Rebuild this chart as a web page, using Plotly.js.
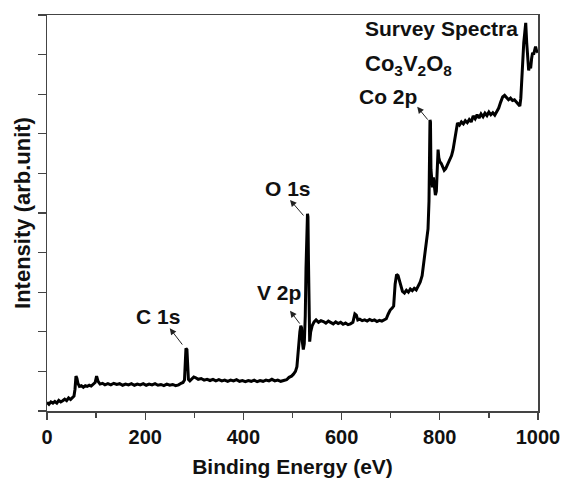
<!DOCTYPE html>
<html>
<head>
<meta charset="utf-8">
<script src="https://cdn.plot.ly/plotly-3.0.1.min.js"></script>
<style>html,body{margin:0;padding:0;background:#fff;}#chart{width:564px;height:478px;}</style>
</head>
<body>
<div id="chart"></div>
<script>
const energy = [0,4,8,12,16,20,24,28,32,36,40,44,48,52,55,57,59,61,63,66,70,74,78,82,86,90,94,98,101,104,108,113,118,124,130,136,142,148,154,160,166,172,178,184,190,196,202,208,214,220,226,232,238,244,250,256,262,268,273,277,280,281.5,283,285,286.5,288,291,295,299,303,308,314,320,326,332,338,344,350,356,362,368,374,380,386,392,398,404,410,416,422,428,434,440,446,452,458,464,470,476,482,488,493,498,502,506,509,511,513,515,517,518.5,520,522,524,526,527.5,529,530.5,531.5,532.5,533.5,535,537,540,544,548,553,558,563,568,573,578,583,588,593,598,603,608,613,618,623,627,630,633,637,642,647,652,657,662,667,672,677,682,687,691,695,699,703,706,709,712,715,718,721,724,728,732,736,740,744,748,752,756,760,764,767,770,773,776,778,779,780,781,782,783,785,787,789,791,793,795,796.5,798,800,803,806,809,812,815,818,821,824,827,830,833,836,840,844,848,852,856,860,864,868,872,876,880,884,888,892,896,900,904,908,912,916,920,924,928,932,936,940,944,948,952,956,960,963,965,967,969,971,973,975,977,979,981,983,985,987,989,991,993,995,997,1000];
const intensity = [0.22,0.17,0.23,0.2,0.24,0.2,0.27,0.23,0.26,0.3,0.26,0.33,0.29,0.35,0.38,0.55,0.88,0.82,0.7,0.62,0.64,0.6,0.64,0.62,0.65,0.63,0.67,0.72,0.88,0.75,0.68,0.7,0.66,0.69,0.66,0.7,0.67,0.69,0.65,0.68,0.66,0.69,0.65,0.68,0.66,0.69,0.65,0.68,0.66,0.69,0.65,0.67,0.64,0.68,0.65,0.67,0.64,0.66,0.7,0.72,0.78,1.3,1.58,1.55,1.2,0.8,0.76,0.82,0.86,0.84,0.8,0.82,0.78,0.8,0.77,0.8,0.76,0.79,0.76,0.78,0.75,0.78,0.76,0.79,0.75,0.77,0.74,0.77,0.75,0.78,0.74,0.77,0.75,0.78,0.76,0.8,0.76,0.78,0.75,0.77,0.79,0.85,0.88,0.93,1.0,1.12,1.45,1.75,2.0,2.15,2.1,1.75,1.55,1.7,2.4,3.6,4.3,4.98,4.9,3.8,2.1,1.75,2.0,2.15,2.25,2.3,2.24,2.28,2.26,2.22,2.27,2.24,2.2,2.25,2.21,2.24,2.19,2.22,2.18,2.2,2.24,2.45,2.42,2.3,2.32,2.28,2.3,2.27,2.31,2.28,2.3,2.26,2.29,2.27,2.3,2.33,2.45,2.55,2.6,2.65,3.2,3.45,3.42,3.3,3.12,3.02,2.98,3.05,3.0,3.08,3.04,3.1,3.06,3.14,3.25,3.42,3.7,4.1,4.35,4.6,5.3,6.6,7.35,7.3,6.1,5.8,5.65,5.9,5.6,5.45,5.55,6.1,6.6,6.4,6.3,6.25,6.15,6.08,6.12,6.2,6.25,6.35,6.45,6.6,6.8,7.1,7.27,7.22,7.3,7.25,7.33,7.28,7.36,7.3,7.45,7.38,7.48,7.4,7.5,7.43,7.52,7.46,7.55,7.48,7.53,7.47,7.55,7.65,7.8,7.93,7.97,7.9,7.86,7.9,7.84,7.86,7.8,7.75,7.7,7.9,8.5,9.0,9.3,9.55,9.8,9.3,8.8,8.6,8.75,8.65,8.9,9.05,9.0,9.15,9.2,9.1,9.05];

const labels = ['C 1s', 'V 2p', 'O 1s', 'Co 2p'];
const labelX = [227, 472, 491, 694];
const labelY = [2.38, 2.98, 5.63, 7.93];
const arrowHeadX = [250, 495, 495, 754];
const arrowHeadY = [2.09, 2.53, 5.33, 7.68];
const arrowTailX = [278, 517, 525, 778];
const arrowTailY = [1.64, 2.17, 4.9, 7.32];

const fontFam = 'Liberation Sans, Arial, sans-serif';
const annotations = [];
for (let i = 0; i < labels.length; i++) {
  annotations.push({x: labelX[i], y: labelY[i], xref: 'x', yref: 'y', text: labels[i], showarrow: false,
    xanchor: 'center', yanchor: 'middle', font: {family: fontFam, size: 21, color: '#111', weight: 'bold'}});
  annotations.push({x: arrowHeadX[i], y: arrowHeadY[i], xref: 'x', yref: 'y', ax: arrowTailX[i], ay: arrowTailY[i],
    axref: 'x', ayref: 'y', text: '', showarrow: true, arrowhead: 2, arrowsize: 1.3, arrowwidth: 1, arrowcolor: '#222'});
}
annotations.push({x: 644, y: 9.67, xref: 'x', yref: 'y', text: 'Survey Spectra', showarrow: false,
  xanchor: 'left', yanchor: 'middle', font: {family: fontFam, size: 21, color: '#111', weight: 'bold'}});
annotations.push({x: 644, y: 8.74, xref: 'x', yref: 'y', text: 'Co<sub>3</sub>V<sub>2</sub>O<sub>8</sub>', showarrow: false,
  xanchor: 'left', yanchor: 'middle', font: {family: fontFam, size: 22, color: '#111', weight: 'bold'}});

const trace = {x: energy, y: intensity, type: 'scatter', mode: 'lines',
  line: {color: '#000', width: 3}, hoverinfo: 'skip'};

const layout = {
  width: 564, height: 478,
  margin: {l: 47, r: 26, t: 15, b: 67},
  paper_bgcolor: '#fff', plot_bgcolor: '#fff',
  showlegend: false,
  font: {family: fontFam, color: '#111', weight: 'bold'},
  xaxis: {
    range: [0, 1000], tickvals: [0, 200, 400, 600, 800, 1000], ticks: 'outside', ticklen: 7, tickwidth: 1.3, tickcolor: '#444',
    minor: {tickvals: [100, 300, 500, 700, 900], ticks: 'outside', ticklen: 5, tickwidth: 1.3, tickcolor: '#444'},
    showline: true, linecolor: '#444', linewidth: 1.5, mirror: true, showgrid: false, zeroline: false,
    tickfont: {family: fontFam, size: 20, color: '#111', weight: 'bold'},
    title: {text: 'Binding Energy (eV)', standoff: 14, font: {family: fontFam, size: 21, color: '#111', weight: 'bold'}},
    automargin: false
  },
  yaxis: {
    range: [0, 10], dtick: 1, tick0: 0, ticks: 'outside', ticklen: 8, tickwidth: 1.3, tickcolor: '#444',
    showticklabels: false,
    showline: true, linecolor: '#444', linewidth: 1.5, mirror: true, showgrid: false, zeroline: false,
    title: {text: 'Intensity (arb.unit)', standoff: 1, font: {family: fontFam, size: 22, color: '#111', weight: 'bold'}},
    automargin: false
  },
  annotations: annotations
};
Plotly.newPlot('chart', [trace], layout, {staticPlot: true, displayModeBar: false});
</script>
</body>
</html>
